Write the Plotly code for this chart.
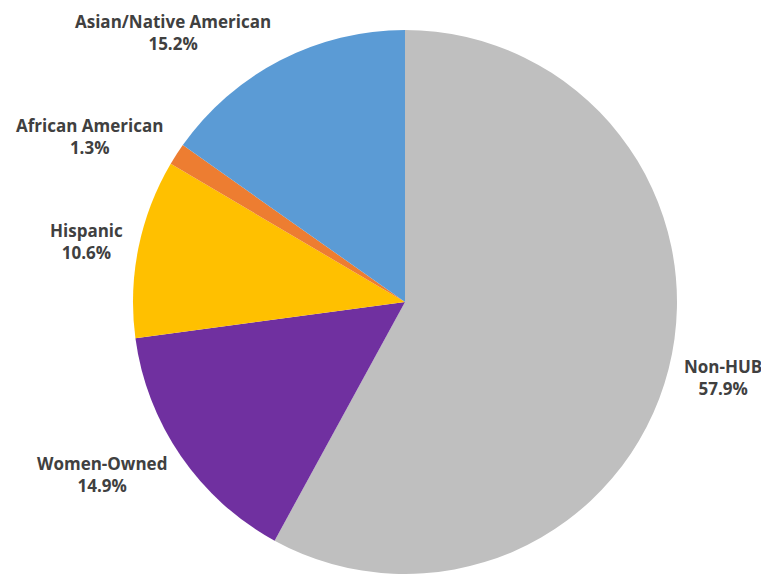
import math
import plotly.graph_objects as go

categories = ["Non-HUB", "Women-Owned", "Hispanic", "African American", "Asian/Native American"]
shares = [57.9, 14.9, 10.6, 1.3, 15.2]
colors = ["#BFBFBF", "#7030A0", "#FFC000", "#ED7D31", "#5B9BD5"]

# the page puts the figure 8 px in from the window's top-left corner
OFF = 8
W, H = 769 - OFF, 574 - OFF
# pie placement (figure pixels)
cx, cy, R = 405 - OFF, 302 - OFF, 272
gap_x, gap_y = 14, 32

fig = go.Figure(go.Pie(
    labels=categories,
    values=shares,
    sort=False,
    direction="clockwise",
    rotation=0,
    marker=dict(colors=colors, line=dict(width=0)),
    textinfo="none",
    showlegend=False,
    hoverinfo="label+value",
    domain=dict(x=[(cx - R) / W, (cx + R) / W],
                y=[max(0.0, 1 - (cy + R) / H), 1 - (cy - R) / H]),
))

# outside labels placed at each slice's mid-angle
total = sum(shares)
cum = 0.0
annotations = []
for name, v in zip(categories, shares):
    mid = (cum + v / 2) / total * 2 * math.pi
    cum += v
    s, c = math.sin(mid), math.cos(mid)
    px = cx + (R + gap_x) * s
    py = cy - (R + gap_y) * c
    xanchor = "left" if s > 0.3 else ("right" if s < -0.3 else "center")
    annotations.append(dict(
        x=px / W, y=1 - py / H, xref="paper", yref="paper",
        text=f"<b>{name}</b><br><b>{v:.1f}%</b>",
        showarrow=False, xanchor=xanchor, yanchor="middle", align="center",
        font=dict(family="Open Sans", size=17, color="#404040"),
    ))

fig.update_layout(
    width=W, height=H,
    margin=dict(l=0, r=0, t=0, b=0),
    paper_bgcolor="white",
    plot_bgcolor="white",
    annotations=annotations,
)
fig.write_html("out.html")
